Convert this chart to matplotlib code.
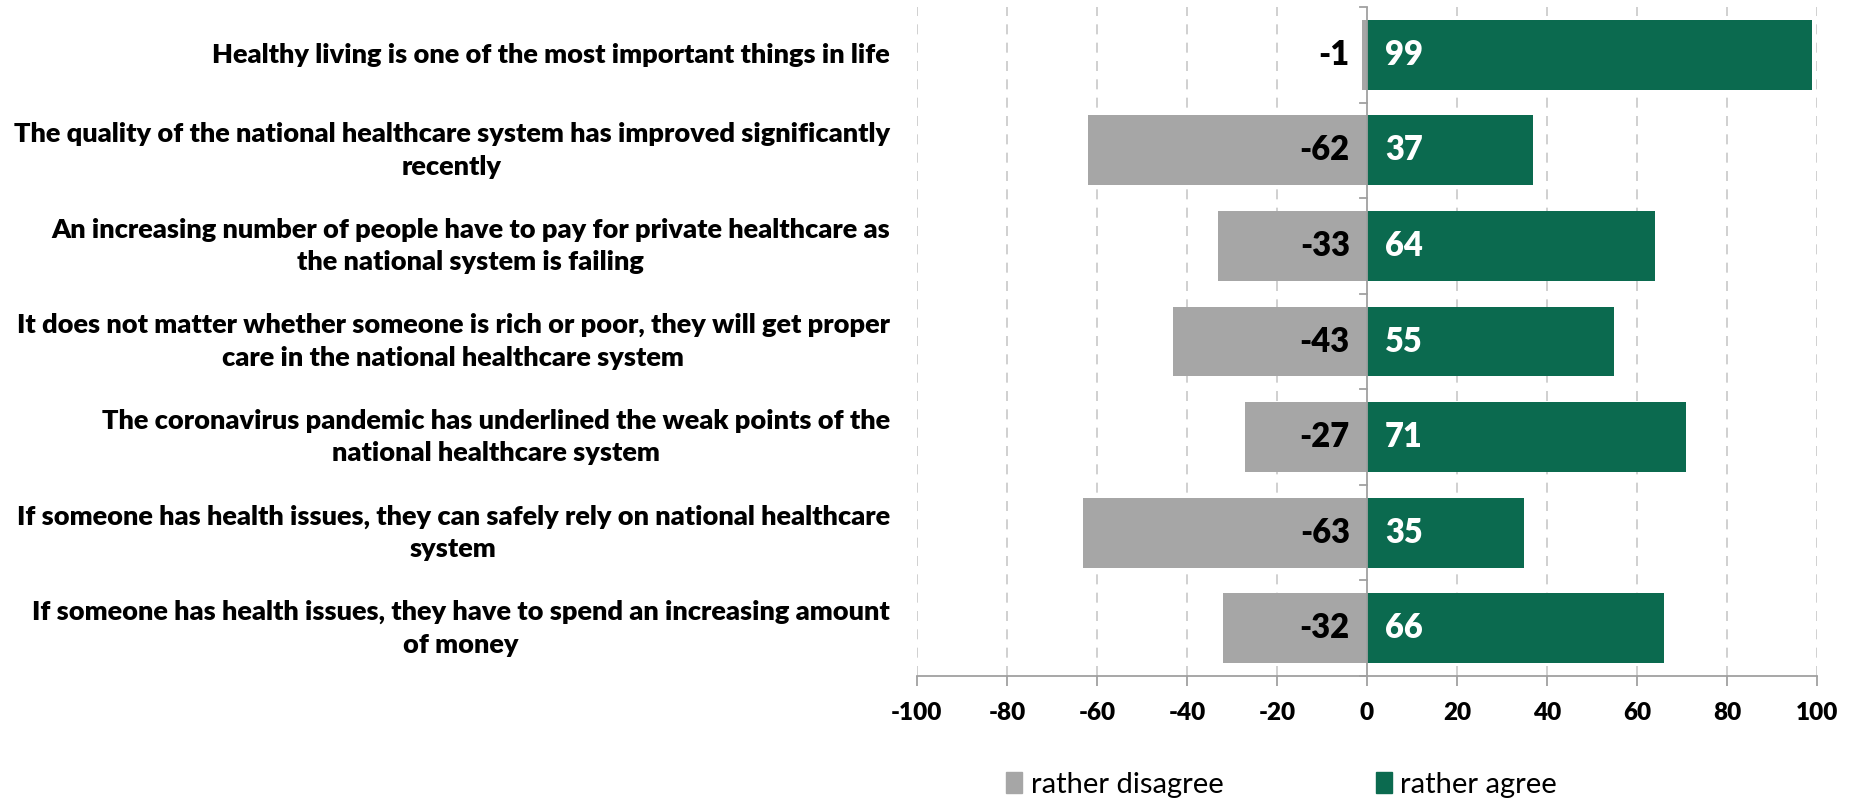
import matplotlib
matplotlib.use("Agg")
import matplotlib.pyplot as plt
from matplotlib.patches import Patch
import numpy as np

FONT = ["Lato", "DejaVu Sans"]
plt.rcParams["font.family"] = FONT

categories = [
    "Healthy living is one of the most important things in life",
    "The quality of the national healthcare system has improved significantly\nrecently",
    "An increasing number of people have to pay for private healthcare as\nthe national system is failing",
    "It does not matter whether someone is rich or poor, they will get proper\ncare in the national healthcare system",
    "The coronavirus pandemic has underlined the weak points of the\nnational healthcare system",
    "If someone has health issues, they can safely rely on national healthcare\nsystem",
    "If someone has health issues, they have to spend an increasing amount\nof money",
]
disagree = [-1, -62, -33, -43, -27, -63, -32]
agree = [99, 37, 64, 55, 71, 35, 66]
x_ticks = list(range(-100, 101, 20))

GREY = "#A6A6A6"
GREEN = "#0B6A4F"
AXIS = "#A0A0A0"
WEIGHT = "heavy"

fig = plt.figure(figsize=(18.55, 8.01), dpi=100)
ax = fig.add_axes([0.4943, 0.156, 0.4852, 0.8353])

y = np.arange(len(categories))
h = 0.73
ax.barh(y, disagree, height=h, color=GREY, zorder=2)
ax.barh(y, agree, height=h, color=GREEN, zorder=2)

# data labels sit at the inside base of each bar
for yi, d, a in zip(y, disagree, agree):
    ax.text(-3.8, yi, str(d), ha="right", va="center", fontsize=23.5,
            fontweight=WEIGHT, color="black", zorder=3)
    ax.text(4, yi, str(a), ha="left", va="center", fontsize=23.5,
            fontweight=WEIGHT, color="white", zorder=3)

ax.set_xlim(-100, 100)
ax.set_ylim(len(categories) - 0.5, -0.5)
ax.set_xticks(x_ticks)
ax.set_xticklabels([str(t) for t in x_ticks], fontsize=17.5, fontweight=WEIGHT)
ax.tick_params(axis="x", length=7, width=1.3, color=AXIS, pad=12)

# vertical axis at zero with category boundary ticks
ax.set_yticks([])
ax.axvline(0, color=AXIS, lw=1.3, zorder=4)
for b in np.arange(-0.5, len(categories), 1.0):
    ax.plot([-1.6, 0], [b, b], color=AXIS, lw=1.3, zorder=4,
            clip_on=False)

for t in x_ticks:
    if t != 0:
        ax.axvline(t, color="#C8C8C8", lw=1.2, ls=(0, (6, 5)), zorder=1)

for s in ["top", "right", "left"]:
    ax.spines[s].set_visible(False)
ax.spines["bottom"].set_color(AXIS)
ax.spines["bottom"].set_linewidth(1.3)

for yi, lab in zip(y, categories):
    ax.text(-0.03, yi, lab, transform=ax.get_yaxis_transform(),
            ha="right", va="center", multialignment="center",
            fontsize=19.5, fontweight=WEIGHT, linespacing=1.42)

handles = [Patch(color=GREY), Patch(color=GREEN)]
fig.legend(handles, ["rather disagree", "rather agree"], loc="center",
           bbox_to_anchor=(0.691, 0.02), ncol=2, frameon=False,
           fontsize=21, handlelength=0.55, handleheight=0.75,
           handletextpad=0.3, columnspacing=5.2)

fig.savefig("out.png", dpi=100)
